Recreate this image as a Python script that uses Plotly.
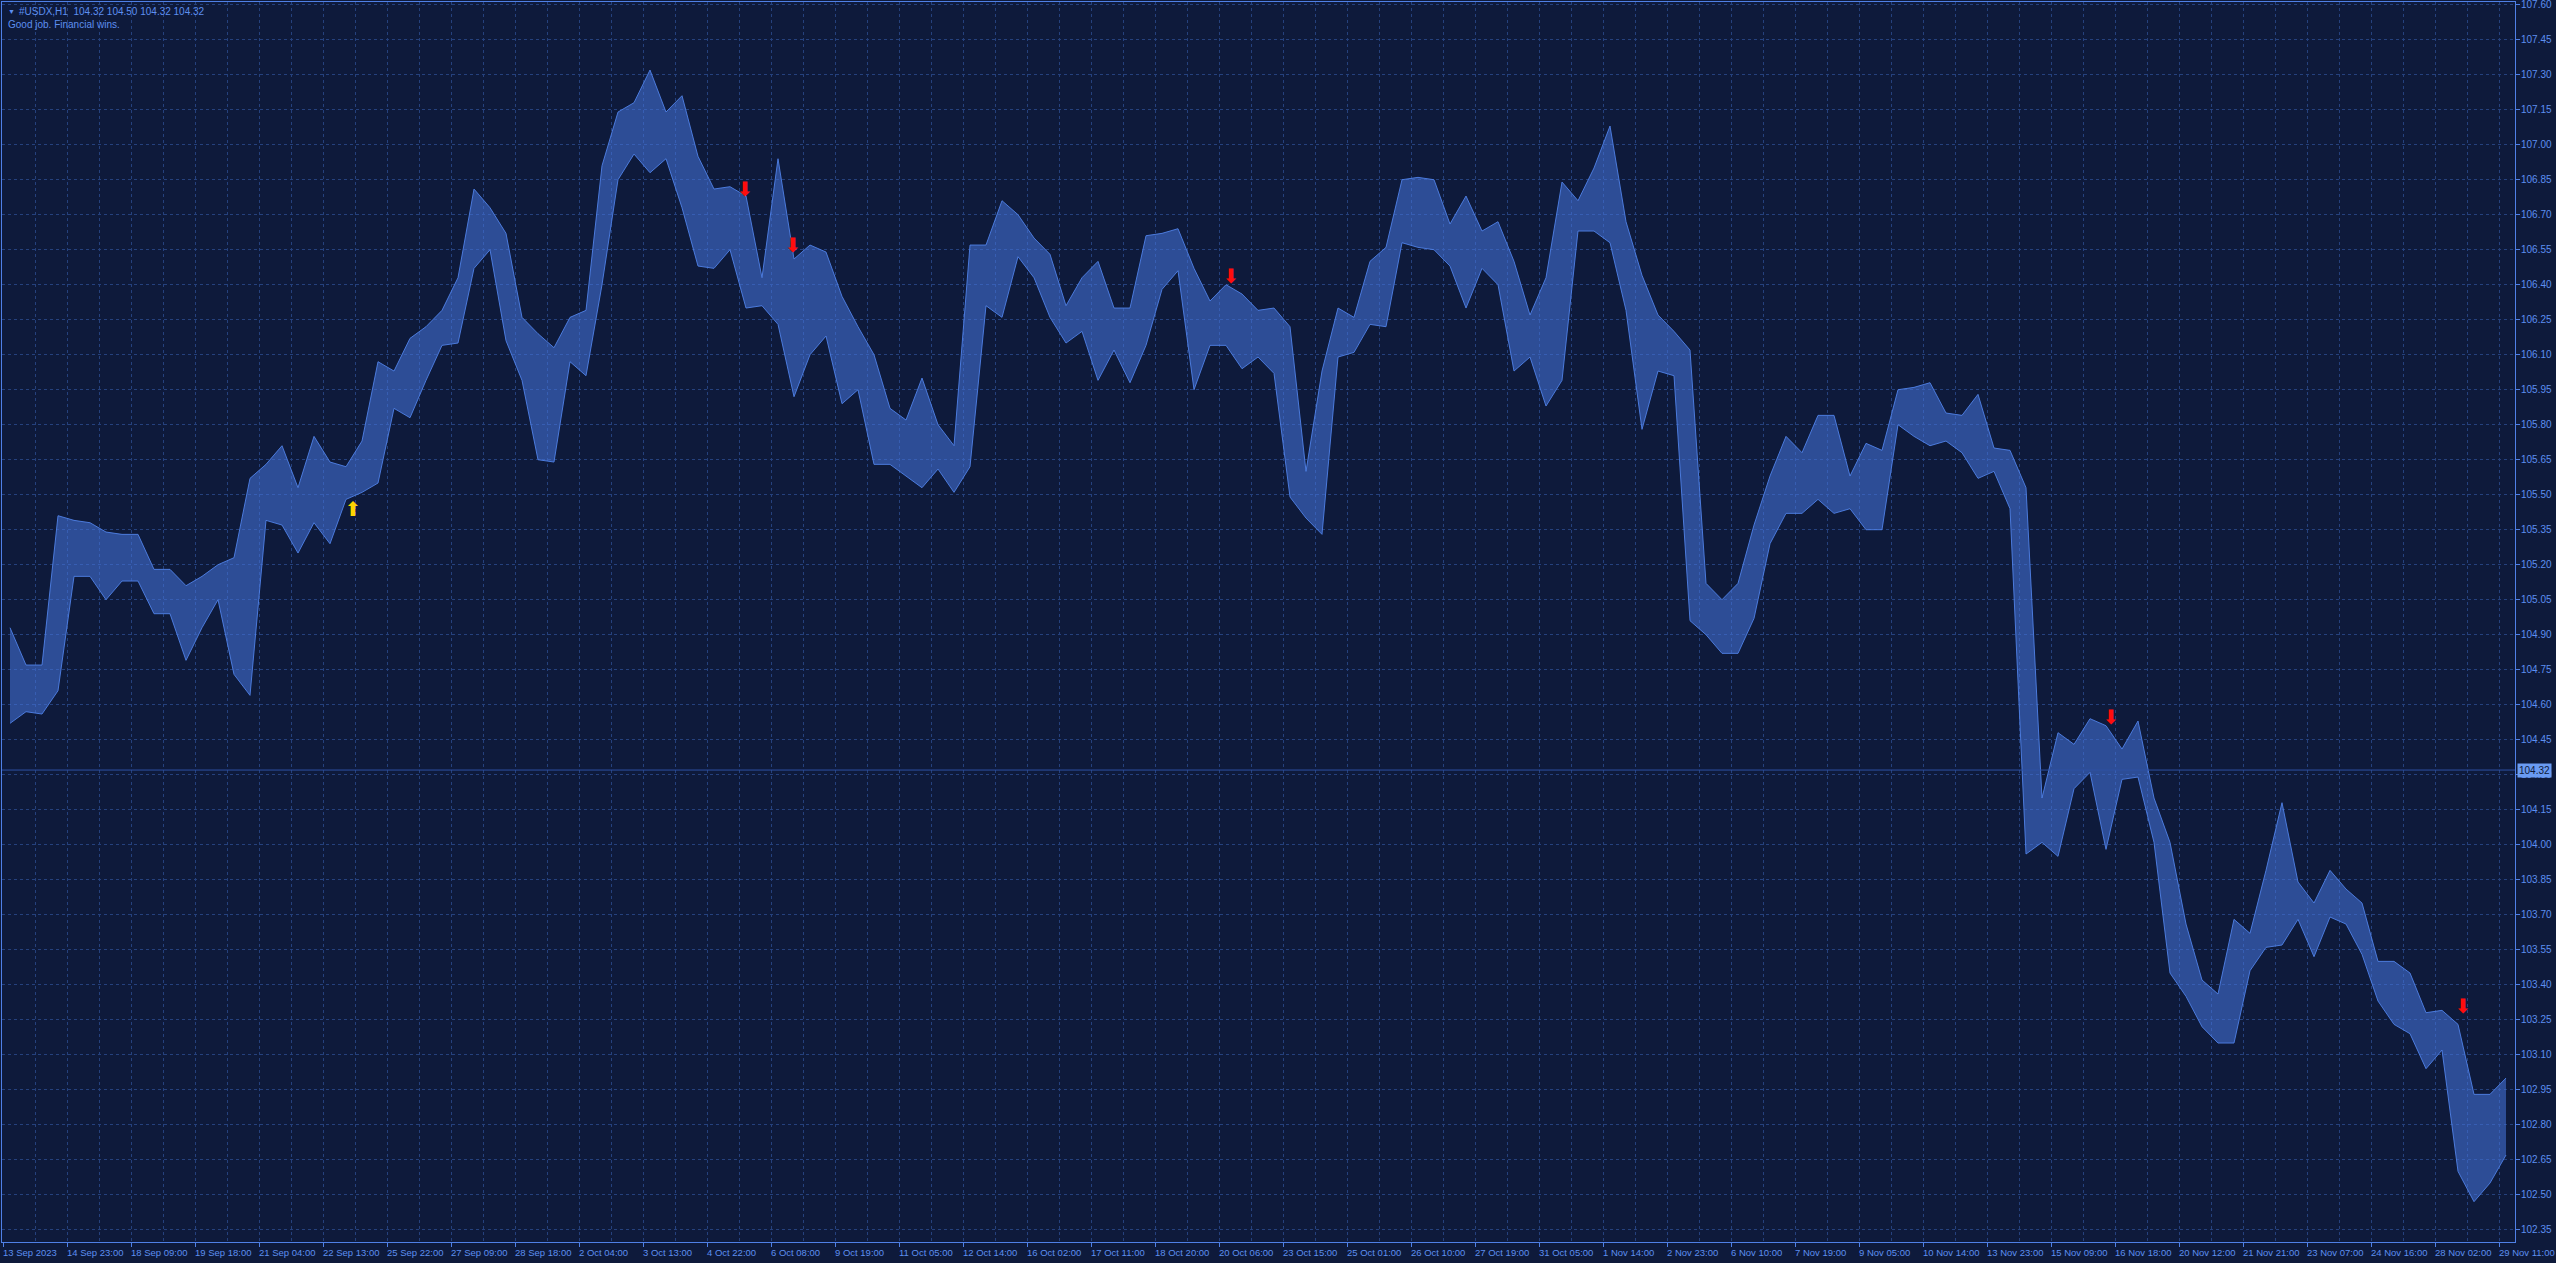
import numpy as np
import plotly.graph_objects as go

# ---- data: USDX H1, read as high/low envelope per block of 8 hourly bars ----
BLOCK = 8
block_high = [
    104.93, 104.77, 104.77, 105.41, 105.39, 105.38, 105.34, 105.33, 105.33, 105.18,
    105.18, 105.11, 105.15, 105.20, 105.23, 105.57, 105.63, 105.71, 105.53, 105.75,
    105.64, 105.62, 105.73, 106.07, 106.03, 106.17, 106.22, 106.29, 106.43, 106.81,
    106.73, 106.62, 106.26, 106.19, 106.13, 106.26, 106.29, 106.91, 107.14, 107.18,
    107.32, 107.14, 107.21, 106.95, 106.81, 106.82, 106.78, 106.43, 106.94, 106.51,
    106.57, 106.54, 106.35, 106.22, 106.10, 105.87, 105.82, 106.00, 105.80, 105.71,
    106.57, 106.57, 106.76, 106.70, 106.60, 106.53, 106.31, 106.43, 106.50, 106.30,
    106.30, 106.61, 106.62, 106.64, 106.47, 106.33, 106.40, 106.36, 106.29, 106.30,
    106.22, 105.60, 106.03, 106.30, 106.26, 106.50, 106.56, 106.85, 106.86, 106.85,
    106.66, 106.78, 106.63, 106.67, 106.50, 106.27, 106.43, 106.84, 106.76, 106.90,
    107.08, 106.67, 106.44, 106.27, 106.20, 106.12, 105.12, 105.05, 105.12, 105.37,
    105.58, 105.75, 105.68, 105.84, 105.84, 105.58, 105.72, 105.69, 105.95, 105.96,
    105.98, 105.85, 105.84, 105.93, 105.70, 105.69, 105.53, 104.20, 104.48, 104.43,
    104.54, 104.51, 104.41, 104.53, 104.20, 104.01, 103.66, 103.42, 103.36, 103.68,
    103.62, 103.89, 104.18, 103.84, 103.75, 103.89, 103.81, 103.75, 103.50, 103.50,
    103.45, 103.28, 103.29, 103.23, 102.93, 102.93, 103.00,
]
block_low = [
    104.52, 104.57, 104.56, 104.66, 105.15, 105.15, 105.05, 105.13, 105.13, 104.99,
    104.99, 104.79, 104.93, 105.05, 104.73, 104.64, 105.39, 105.37, 105.25, 105.38,
    105.29, 105.48, 105.51, 105.55, 105.87, 105.83, 105.99, 106.14, 106.15, 106.47,
    106.55, 106.16, 105.99, 105.65, 105.64, 106.07, 106.01, 106.40, 106.85, 106.96,
    106.88, 106.94, 106.73, 106.48, 106.47, 106.55, 106.30, 106.31, 106.23, 105.92,
    106.10, 106.18, 105.89, 105.95, 105.63, 105.63, 105.58, 105.53, 105.61, 105.51,
    105.62, 106.31, 106.26, 106.52, 106.43, 106.26, 106.15, 106.20, 105.99, 106.12,
    105.98, 106.14, 106.38, 106.46, 105.95, 106.14, 106.14, 106.04, 106.09, 106.02,
    105.49, 105.40, 105.33, 106.09, 106.11, 106.23, 106.22, 106.58, 106.56, 106.55,
    106.48, 106.30, 106.47, 106.40, 106.03, 106.09, 105.88, 105.99, 106.63, 106.63,
    106.58, 106.29, 105.78, 106.03, 106.01, 104.96, 104.90, 104.82, 104.82, 104.97,
    105.29, 105.42, 105.42, 105.48, 105.42, 105.44, 105.35, 105.35, 105.80, 105.75,
    105.71, 105.73, 105.68, 105.57, 105.60, 105.44, 103.96, 104.01, 103.95, 104.24,
    104.31, 103.98, 104.28, 104.29, 104.01, 103.45, 103.35, 103.22, 103.15, 103.15,
    103.46, 103.56, 103.57, 103.68, 103.52, 103.69, 103.66, 103.53, 103.33, 103.23,
    103.19, 103.04, 103.12, 102.60, 102.47, 102.55, 102.67,
]
n_bars = 1256

x_tick_labels = [
    "13 Sep 2023", "14 Sep 23:00", "18 Sep 09:00", "19 Sep 18:00", "21 Sep 04:00",
    "22 Sep 13:00", "25 Sep 22:00", "27 Sep 09:00", "28 Sep 18:00", "2 Oct 04:00",
    "3 Oct 13:00", "4 Oct 22:00", "6 Oct 08:00", "9 Oct 19:00", "11 Oct 05:00",
    "12 Oct 14:00", "16 Oct 02:00", "17 Oct 11:00", "18 Oct 20:00", "20 Oct 06:00",
    "23 Oct 15:00", "25 Oct 01:00", "26 Oct 10:00", "27 Oct 19:00", "31 Oct 05:00",
    "1 Nov 14:00", "2 Nov 23:00", "6 Nov 10:00", "7 Nov 19:00", "9 Nov 05:00",
    "10 Nov 14:00", "13 Nov 23:00", "15 Nov 09:00", "16 Nov 18:00", "20 Nov 12:00",
    "21 Nov 21:00", "23 Nov 07:00", "24 Nov 16:00", "28 Nov 02:00", "29 Nov 11:00",
]
x_label_step = 32
y_tick_start, y_tick_step, y_tick_count = 102.35, 0.15, 36

up_arrow_bar = [175]
up_arrow_price = [105.43]
down_arrow_bar = [371, 395, 614, 1054, 1230]
down_arrow_price = [106.80, 106.56, 106.43, 104.54, 103.30]

bid_price = 104.32
header_line = "#USDX,H1  104.32 104.50 104.32 104.32"
comment_line = "Good job. Financial wins."

# ---- styling ----
BG = "#0e1a3b"
GRID = "#25417d"
AXIS = "#4f80e6"
TEXT = "#5d8ff0"
BAND = "rgba(70,118,222,0.56)"
EDGE = "rgba(80,130,232,0.9)"
FONT = "Liberation Sans, Arial, sans-serif"

hi = np.array(block_high)
lo = np.array(block_low)
centers = np.arange(len(hi)) * BLOCK + (BLOCK - 1) / 2

fig = go.Figure()
fig.add_trace(go.Scatter(
    x=centers, y=lo, mode="lines", line=dict(color=EDGE, width=1),
    hoverinfo="skip", showlegend=False,
))
fig.add_trace(go.Scatter(
    x=centers, y=hi, mode="lines", line=dict(color=EDGE, width=1),
    fill="tonexty", fillcolor=BAND, hoverinfo="skip", showlegend=False,
))
fig.add_trace(go.Scatter(
    x=up_arrow_bar, y=up_arrow_price, mode="text", text=["⬆"] * len(up_arrow_bar),
    textfont=dict(color="#ffd400", size=20, family="DejaVu Sans"),
    textposition="middle center", showlegend=False, hoverinfo="skip",
))
fig.add_trace(go.Scatter(
    x=down_arrow_bar, y=down_arrow_price, mode="text", text=["⬇"] * len(down_arrow_bar),
    textfont=dict(color="#ff0d0d", size=20, family="DejaVu Sans"),
    textposition="middle center", showlegend=False, hoverinfo="skip",
))

yticks = np.round(y_tick_start + y_tick_step * np.arange(y_tick_count), 2)
grid_dash = "3px,3px"

fig.update_layout(
    width=2556, height=1263,
    margin=dict(l=2, r=41, t=2, b=21),
    paper_bgcolor=BG, plot_bgcolor=BG,
    showlegend=False,
    xaxis=dict(
        range=[-0.5, n_bars], tickmode="linear", tick0=0, dtick=x_label_step,
        showticklabels=False, ticks="outside", ticklen=4, tickcolor=AXIS,
        showgrid=True, gridcolor=GRID, gridwidth=1, griddash=grid_dash,
        minor=dict(tick0=0, dtick=x_label_step // 2, showgrid=True, gridcolor=GRID,
                   griddash=grid_dash, gridwidth=1, ticks=""),
        showline=True, linecolor=AXIS, linewidth=1, mirror=True, zeroline=False,
    ),
    yaxis=dict(
        side="right", range=[102.2973, 107.6116],
        tickmode="array", tickvals=yticks, showticklabels=False,
        ticks="outside", ticklen=4, tickcolor=AXIS,
        showgrid=True, gridcolor=GRID, gridwidth=1, griddash=grid_dash,
        showline=True, linecolor=AXIS, linewidth=1, mirror=True, zeroline=False,
    ),
)

# bid line
fig.add_hline(y=bid_price, line=dict(color="#2d51a3", width=1))

annotations = []
for i, lab in enumerate(x_tick_labels):
    annotations.append(dict(
        x=i * x_label_step, y=0, xref="x", yref="paper", text=lab, showarrow=False,
        xanchor="left", yanchor="top", xshift=-2, yshift=-3,
        font=dict(color=TEXT, size=9.5, family=FONT),
    ))
for v in yticks:
    annotations.append(dict(
        x=1, y=v, xref="paper", yref="y", text=f"{v:.2f}", showarrow=False,
        xanchor="left", yanchor="middle", xshift=4,
        font=dict(color=TEXT, size=10, family=FONT),
    ))
annotations.append(dict(
    x=1, y=bid_price, xref="paper", yref="y", text=f"{bid_price:.2f}", showarrow=False,
    xanchor="left", yanchor="middle", xshift=2, bgcolor="#6a9bf2", borderpad=1,
    font=dict(color="#0e1a3b", size=10, family=FONT),
))
annotations.append(dict(
    x=0, y=1, xref="paper", yref="paper", text="▼", showarrow=False,
    xanchor="left", yanchor="middle", xshift=4, yshift=-9,
    font=dict(color=TEXT, size=7, family=FONT),
))
annotations.append(dict(
    x=0, y=1, xref="paper", yref="paper", text=header_line, showarrow=False,
    xanchor="left", yanchor="middle", xshift=15, yshift=-9,
    font=dict(color=TEXT, size=10, family=FONT),
))
annotations.append(dict(
    x=0, y=1, xref="paper", yref="paper", text=comment_line, showarrow=False,
    xanchor="left", yanchor="middle", xshift=4, yshift=-22,
    font=dict(color=TEXT, size=10, family=FONT),
))
fig.update_layout(annotations=annotations)

fig.write_html(
    "out.html",
    config={"displayModeBar": False},
    post_script="document.body.style.margin='0';document.body.style.overflow='hidden';",
)
